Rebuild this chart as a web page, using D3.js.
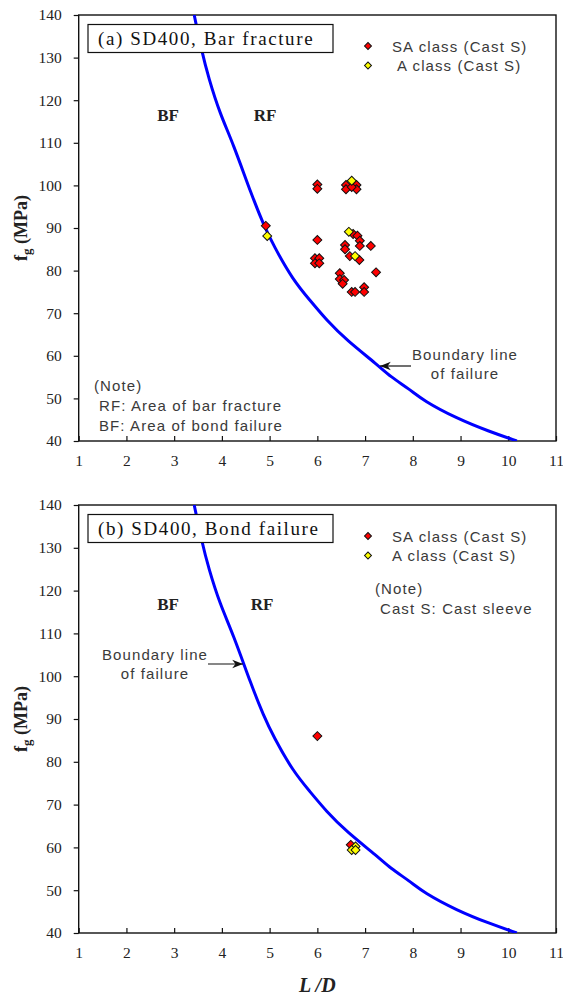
<!DOCTYPE html>
<html>
<head>
<meta charset="utf-8">
<script src="https://cdn.jsdelivr.net/npm/d3@7"></script>
<style>
	body { margin: 0; background: #fff; }
	.tick_label { font-family: 'Liberation Serif', serif; font-size: 15.5px; fill: #222; }
	.note { font-family: 'Liberation Sans', sans-serif; font-size: 15px; fill: #3a3a3a; letter-spacing: 1.1px; }
	.area_lbl { font-family: 'Liberation Serif', serif; font-size: 17px; font-weight: bold; fill: #222; }
	.title_txt { font-family: 'Liberation Serif', serif; font-size: 19px; fill: #111; letter-spacing: 1.6px; }
</style>
</head>
<body>
<svg id="chart" width="563" height="998"></svg>
<script>
let xTicks = [1, 2, 3, 4, 5, 6, 7, 8, 9, 10, 11],
	yTicks = [40, 50, 60, 70, 80, 90, 100, 110, 120, 130, 140];

// boundary line of failure (L/D, fg)
let boundaryLD = [3.42, 3.58, 3.72, 3.96, 4.23, 4.62, 4.87, 5.08, 5.49, 5.84, 6.19, 6.61, 7.27, 7.52, 7.94, 8.22, 8.92, 9.61, 10.18],
	boundaryFg = [140, 131.4, 125.3, 116.8, 110, 97.8, 90.9, 85.9, 77.8, 73.1, 68.4, 63.7, 57.8, 55.2, 52.1, 49.5, 45.3, 42.2, 40];

// (a) bar fracture
let barSA = [
	[4.92, 90.5], [6.0, 100.2], [6.0, 99.2], [6.6, 100.1], [6.6, 99.1], [6.82, 100.1], [6.82, 99.1], [6.72, 99.6],
	[6.0, 87.2], [6.75, 88.6], [6.84, 88.2], [6.89, 87.0], [6.89, 85.8], [7.12, 85.8], [6.58, 86.0], [6.58, 85.0],
	[6.68, 83.4], [6.88, 82.5], [5.95, 82.9], [6.04, 82.9], [5.95, 81.7], [6.04, 81.7], [7.23, 79.6],
	[6.47, 79.4], [6.47, 78.0], [6.56, 77.8], [6.53, 76.9], [6.72, 75.0], [6.79, 75.0], [6.98, 76.1], [6.98, 75.0]
];
let barA = [[4.95, 88.1], [6.72, 101.1], [6.66, 89.1], [6.79, 83.4]];

// (b) bond failure
let bondSA = [[6.0, 86.0], [6.7, 60.6]];
let bondA = [[6.8, 60.2], [6.72, 59.4], [6.8, 59.4]];

let legend_names = ['SA class (Cast S)', 'A class (Cast S)'];
let colorCate = ['#ff0000', '#ffff00'];

let svg = d3.select('#chart');
let plot_left = 78.7, plot_right = 556;

function render_panel(cfg) {
	let x = d3.scaleLinear().domain([1, 11]).range([plot_left, plot_right]);
	let y = d3.scaleLinear().domain([40, 140]).range([cfg.bottom, cfg.top]);

	let g = svg.append('g').attr('class', 'panel');
	let clip_id = 'clip_' + cfg.id;
	g.append('clipPath').attr('id', clip_id)
		.append('rect')
		.attr('x', x(1)).attr('y', y(140))
		.attr('width', x(11) - x(1)).attr('height', y(40) - y(140));

	// axes
	g.append('g')
		.attr('transform', `translate(0, ${y(40)})`)
		.call(d3.axisBottom(x).tickValues(xTicks).tickSize(-5).tickSizeOuter(0).tickPadding(14))
		.call(a => a.select('.domain').remove())
		.call(a => a.selectAll('line').attr('stroke', '#111').attr('stroke-width', 1.2))
		.call(a => a.selectAll('text').attr('class', 'tick_label').attr('font-family', null).attr('font-size', null));
	g.append('g')
		.attr('transform', `translate(${x(1)}, 0)`)
		.call(d3.axisLeft(y).tickValues(yTicks).tickSize(5).tickSizeOuter(0).tickPadding(12))
		.call(a => a.select('.domain').remove())
		.call(a => a.selectAll('line').attr('stroke', '#111').attr('stroke-width', 1.2))
		.call(a => a.selectAll('text').attr('class', 'tick_label').attr('font-family', null).attr('font-size', null));

	// frame
	g.append('rect')
		.attr('x', x(1)).attr('y', y(140))
		.attr('width', x(11) - x(1)).attr('height', y(40) - y(140))
		.attr('fill', 'none').attr('stroke', '#111').attr('stroke-width', 1.4);

	// boundary line
	let line_function = d3.line()
		.x((d, i) => x(boundaryLD[i]))
		.y(d => y(d))
		.curve(d3.curveBasis);
	g.append('path')
		.attr('d', line_function(boundaryFg))
		.attr('clip-path', `url(#${clip_id})`)
		.style('fill', 'none')
		.style('stroke', '#0000ff')
		.style('stroke-width', 3);

	// area labels
	g.append('text').attr('class', 'area_lbl')
		.attr('x', cfg.bf_x).attr('y', cfg.area_y).attr('text-anchor', 'middle').text('BF');
	g.append('text').attr('class', 'area_lbl')
		.attr('x', cfg.rf_x).attr('y', cfg.area_y).attr('text-anchor', 'middle').text('RF');

	// title box
	g.append('rect')
		.attr('x', 88).attr('y', y(140) + 9.5)
		.attr('width', 245).attr('height', 28)
		.attr('fill', 'white').attr('stroke', '#111').attr('stroke-width', 1.2);
	g.append('text').attr('class', 'title_txt')
		.attr('x', 98).attr('y', y(140) + 30)
		.text(cfg.title);

	// points
	let diamond = d3.symbol().type(d3.symbolSquare).size(40);
	[cfg.sa, cfg.a].forEach((series, si) => {
		g.selectAll(`.pt_${si}`)
			.data(series)
			.enter()
			.append('path')
			.attr('class', `pt_${si}`)
			.attr('d', diamond)
			.attr('transform', d => `translate(${x(d[0])}, ${y(d[1])}) rotate(45)`)
			.style('fill', colorCate[si])
			.style('stroke', '#111')
			.style('stroke-width', 1);
	});

	// legend
	let small = d3.symbol().type(d3.symbolSquare).size(24);
	legend_names.forEach((name, i) => {
		let ly = y(140) + 31 + i * 19.5;
		g.append('path')
			.attr('d', small)
			.attr('transform', `translate(368, ${ly}) rotate(45)`)
			.style('fill', colorCate[i]).style('stroke', '#111').style('stroke-width', 1);
		g.append('text').attr('class', 'note')
			.attr('x', cfg.legend_x[i]).attr('y', ly + 5.5)
			.text(name);
	});

	// boundary annotation
	let defs = g.append('defs');
	defs.append('marker').attr('id', 'arr_' + cfg.id)
		.attr('viewBox', '0 0 10 10').attr('refX', 10).attr('refY', 5)
		.attr('markerWidth', 9).attr('markerHeight', 9)
		.attr('orient', 'auto-start-reverse')
		.append('path').attr('d', 'M0,1 L10,5 L0,9 L3,5 Z').attr('fill', '#111');
	let ann = cfg.ann;
	g.append('line')
		.attr('x1', ann.x1).attr('y1', ann.y).attr('x2', ann.x2).attr('y2', ann.y)
		.attr('stroke', '#111').attr('stroke-width', 1.2)
		.attr('marker-end', `url(#arr_${cfg.id})`);
	ann.lines.forEach((t, i) => {
		g.append('text').attr('class', 'note')
			.attr('x', ann.tx[i]).attr('y', ann.ty + i * 19)
			.attr('text-anchor', ann.anchor)
			.text(t);
	});

	// notes
	cfg.notes.forEach((t, i) => {
		g.append('text').attr('class', 'note')
			.attr('x', cfg.note_x[i]).attr('y', cfg.note_y + i * 20)
			.text(t);
	});

	// y label
	let yl = svg.append('text')
		.attr('transform', `translate(27, ${(y(40) + y(140)) / 2}) rotate(-90)`)
		.attr('text-anchor', 'middle')
		.style('font-family', 'Liberation Serif, serif')
		.style('font-weight', 'bold')
		.style('font-size', '18px')
		.style('fill', '#222');
	yl.append('tspan').text('f');
	yl.append('tspan').attr('dy', 4).style('font-size', '13px').text('g');
	yl.append('tspan').attr('dy', -4).text(' (MPa)');
}

render_panel({
	id: 'a', top: 15, bottom: 441, title: '(a) SD400, Bar fracture',
	sa: barSA, a: barA, bf_x: 168, rf_x: 265, area_y: 121,
	legend_x: [392, 397],
	ann: {x1: 411, x2: 380, y: 366, lines: ['Boundary line', 'of failure'], tx: [465, 465], ty: 360, anchor: 'middle'},
	notes: ['(Note)', 'RF: Area of bar fracture', 'BF: Area of bond failure'],
	note_x: [94, 99, 99], note_y: 391
});
render_panel({
	id: 'b', top: 505, bottom: 933, title: '(b) SD400, Bond failure',
	sa: bondSA, a: bondA, bf_x: 168, rf_x: 262, area_y: 610,
	legend_x: [392, 392],
	ann: {x1: 208, x2: 243, y: 664, lines: ['Boundary line', 'of failure'], tx: [155, 155], ty: 660, anchor: 'middle'},
	notes: ['(Note)', 'Cast S: Cast sleeve'],
	note_x: [375, 380], note_y: 594
});

// x label
svg.append('text')
	.attr('x', (plot_left + plot_right) / 2).attr('y', 992)
	.attr('text-anchor', 'middle')
	.style('font-family', 'Liberation Serif, serif')
	.style('font-weight', 'bold')
	.style('font-style', 'italic')
	.style('font-size', '20px')
	.style('fill', '#222')
	.text('L /D');
</script>
</body>
</html>
